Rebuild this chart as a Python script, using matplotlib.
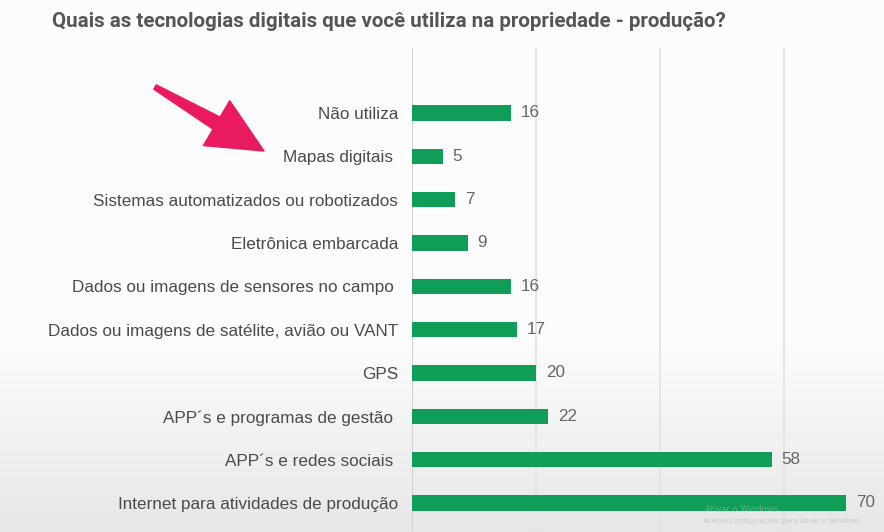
import numpy as np
import matplotlib
matplotlib.use("Agg")
import matplotlib.pyplot as plt
from matplotlib.patches import Polygon

categories = [
    "Não utiliza",
    "Mapas digitais ",
    "Sistemas automatizados ou robotizados",
    "Eletrônica embarcada",
    "Dados ou imagens de sensores no campo ",
    "Dados ou imagens de satélite, avião ou VANT",
    "GPS",
    "APP´s e programas de gestão ",
    "APP´s e redes sociais ",
    "Internet para atividades de produção",
]
values = [16, 5, 7, 9, 16, 17, 20, 22, 58, 70]
title = "Quais as tecnologias digitais que você utiliza na propriedade - produção?"

W, H = 884, 532
fig = plt.figure(figsize=(W / 100, H / 100), dpi=100)

# background gradient (video screenshot look)
bg = fig.add_axes([0, 0, 1, 1], zorder=-10)
yy = np.arange(H)
shade = np.clip((yy - 340) / (H - 340), 0, 1)
col = 0.99 - 0.085 * shade
img = np.repeat(np.dstack([col, col, col]).reshape(H, 1, 3), 2, axis=1)
bg.imshow(img, aspect="auto", extent=[0, 1, 0, 1], origin="upper")
bg.set_axis_off()

x0 = 412 / W
x80 = 908 / W
ax = fig.add_axes([x0, 0.0, x80 - x0, 1 - 48 / H])
ax.patch.set_alpha(0)
y = np.arange(len(categories))
ax.barh(y, values, height=0.35, color="#0f9d58", zorder=3)
ax.set_xlim(0, 80)
ax.set_ylim(9 + 29 / 43.33, -1.5)
ax.set_xticks([0, 20, 40, 60, 80])
ax.xaxis.grid(True, color="#e2e2e2", linewidth=1.2, zorder=0)
ax.set_yticks(y)
ax.set_yticklabels(categories, fontsize=12.3, color="#4a4a4a", family="Liberation Sans")
ax.tick_params(axis="y", length=0, pad=10)
ax.tick_params(axis="x", length=0, labelbottom=False)
for s in ax.spines.values():
    s.set_visible(False)
ax.axvline(0, color="#cfcfcf", linewidth=1.2, zorder=2)
for yi, v in zip(y, values):
    ax.annotate(str(v), (v, yi), xytext=(7, 0), textcoords="offset points",
                va="center", ha="left", fontsize=12.3, color="#666666",
                family="Liberation Sans")

fig.text(52 / W, 1 - 21 / H, title, fontsize=14.8, fontweight="bold",
         color="#555555", family="Roboto", va="center", ha="left")

# pink arrow annotation
tail = np.array([155.0, 87.0])
tip = np.array([264.0, 151.0])
d = tip - tail
L = np.linalg.norm(d)
u = d / L
n = np.array([-u[1], u[0]])
hl, hw, w0, w1 = 55.0, 26.0, 2.5, 7.0
base = tip - u * hl
pts_px = [tail + n * w0, base + n * w1, base + n * hw, tip,
          base - n * hw, base - n * w1, tail - n * w0]
pts = [(p[0] / W, 1 - p[1] / H) for p in pts_px]
fig.patches.append(Polygon(pts, closed=True, transform=fig.transFigure,
                           facecolor="#ea1a5f", edgecolor="#ea1a5f",
                           linewidth=1, joinstyle="round", zorder=20))

# faint watermark text
fig.text(705 / W, 1 - 509 / H, "Ativar o Windows", fontsize=6, color="#b0b0b0",
         alpha=0.6, ha="left", va="center")
fig.text(703 / W, 1 - 521 / H, "Acesse Configurações para ativar o Windows.",
         fontsize=5, color="#b0b0b0", alpha=0.6, ha="left", va="center")

fig.savefig("out.png", dpi=100)
